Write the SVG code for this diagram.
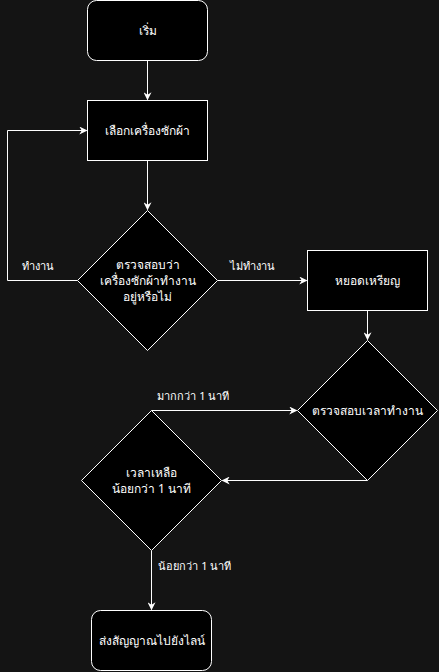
<svg xmlns="http://www.w3.org/2000/svg" width="439" height="672" viewBox="0 0 439 672">
<style>
.bg{fill:#141414}
.node{fill:#000;stroke:#fff;stroke-width:1}
.edge{fill:none;stroke:#fff;stroke-width:1}
text{font-family:"Noto Sans","DejaVu Sans",sans-serif;fill:#fff;font-size:12px;text-anchor:middle;dominant-baseline:central}
.lbl{font-size:11px}
</style>
<defs>
<marker id="arr" viewBox="0 0 10 10" refX="9" refY="5" markerWidth="8" markerHeight="8" markerUnits="userSpaceOnUse" orient="auto">
<path d="M0,0 L10,5 L0,10 L3,5 Z" fill="#fff"/>
</marker>
</defs>
<rect class="bg" x="0" y="0" width="439" height="672"/>
<g id="edges">
<path class="edge" d="M147.5,60.5 V99.5" marker-end="url(#arr)"/>
<path class="edge" d="M147.5,160.5 V209.5" marker-end="url(#arr)"/>
<path class="edge" d="M77.5,280.5 H7.5 V130.5 H86.5" marker-end="url(#arr)"/>
<path class="edge" d="M217.5,280.5 H306.5" marker-end="url(#arr)"/>
<path class="edge" d="M367.5,310.5 V339.5" marker-end="url(#arr)"/>
<path class="edge" d="M151.5,410.5 H296.5" marker-end="url(#arr)"/>
<path class="edge" d="M367.5,480.5 H222.5" marker-end="url(#arr)"/>
<path class="edge" d="M151.5,550.5 V609.5" marker-end="url(#arr)"/>
<text class="lbl" x="37.5" y="265">ทำงาน</text>
<text class="lbl" x="252.5" y="265">ไม่ทำงาน</text>
<text class="lbl" x="193.5" y="395">มากกว่า 1 นาที</text>
<text class="lbl" x="195" y="565">น้อยกว่า 1 นาที</text>
</g>
<g id="start">
<rect class="node" x="87.5" y="0.5" width="120" height="60" rx="9"/>
<text x="147.5" y="30.5">เริ่ม</text>
</g>
<g id="select">
<rect class="node" x="87.5" y="100.5" width="120" height="60"/>
<text x="147.5" y="130.5">เลือกเครื่องซักผ้า</text>
</g>
<g id="check">
<path class="node" d="M147.5,210.5 L217.5,280.5 L147.5,350.5 L77.5,280.5 Z"/>
<text x="147.5" y="264">ตรวจสอบว่า</text>
<text x="147.5" y="280">เครื่องซักผ้าทำงาน</text>
<text x="147.5" y="296">อยู่หรือไม่</text>
</g>
<g id="coin">
<rect class="node" x="307.5" y="250.5" width="120" height="60"/>
<text x="367.5" y="280.5">หยอดเหรียญ</text>
</g>
<g id="checktime">
<path class="node" d="M367.5,340.5 L437.5,410.5 L367.5,480.5 L297.5,410.5 Z"/>
<text x="367.5" y="410.5">ตรวจสอบเวลาทำงาน</text>
</g>
<g id="remain">
<path class="node" d="M151.5,410.5 L221.5,480.5 L151.5,550.5 L81.5,480.5 Z"/>
<text x="151.5" y="472">เวลาเหลือ</text>
<text x="151.5" y="488">น้อยกว่า 1 นาที</text>
</g>
<g id="notify">
<rect class="node" x="91.5" y="610.5" width="120" height="60" rx="9"/>
<text x="151.5" y="640.5">ส่งสัญญาณไปยังไลน์</text>
</g>
</svg>
